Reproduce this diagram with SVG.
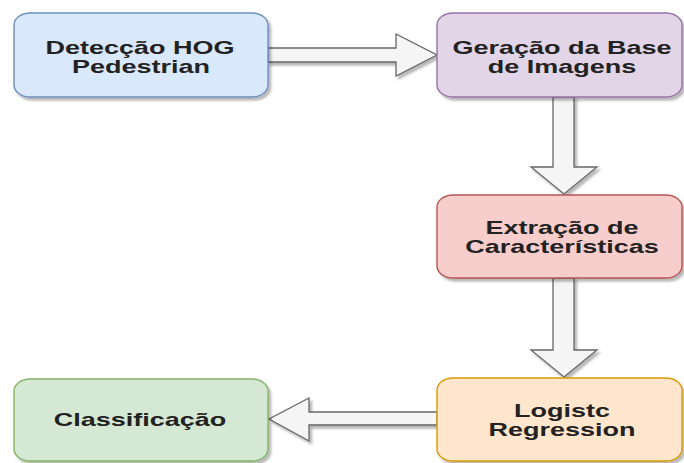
<svg xmlns="http://www.w3.org/2000/svg" width="684" height="463" viewBox="0 0 684 463">
<style>
.box{stroke-width:1.4}
.lbl{font-family:"Liberation Sans",Arial,sans-serif;font-size:18px;font-weight:bold;fill:#222;text-anchor:middle}
.arr{fill:#f5f5f5;stroke:#666;stroke-width:1.3;stroke-linejoin:miter}
</style>
<defs>
<filter id="sh" x="-10%" y="-10%" width="125%" height="130%">
<feDropShadow dx="2.5" dy="3" stdDeviation="1.2" flood-color="#000" flood-opacity="0.28"/>
</filter>
</defs>
<rect width="684" height="463" fill="#fff"/>
<g id="connectors" filter="url(#sh)">
<polygon class="arr" points="268,48 396,48 396,34 437,55 396,76 396,62 268,62"/>
<polygon class="arr" points="553,97 574,97 574,167 597,167 564,194 531,167 553,167"/>
<polygon class="arr" points="553,278 574,278 574,350 597,350 564,377 531,350 553,350"/>
<polygon class="arr" points="437,412 309,412 309,398 269,419 309,441 309,425 437,425"/>
</g>
<g id="n1">
<rect class="box" x="14" y="13" width="254" height="84" rx="16" ry="12" fill="#dae8fc" stroke="#6c8ebf" filter="url(#sh)"/>
<text class="lbl" transform="translate(140,54) scale(1.5,1)">Detecção HOG</text>
<text class="lbl" transform="translate(141,73) scale(1.5,1)">Pedestrian</text>
</g>
<g id="n2">
<rect class="box" x="437" y="13" width="245" height="84" rx="16" ry="12" fill="#e1d5e7" stroke="#9673a6" filter="url(#sh)"/>
<text class="lbl" transform="translate(562,54) scale(1.5,1)">Geração da Base</text>
<text class="lbl" transform="translate(562,73) scale(1.5,1)">de Imagens</text>
</g>
<g id="n3">
<rect class="box" x="437" y="195" width="245" height="83" rx="16" ry="12" fill="#f8cecc" stroke="#b85450" filter="url(#sh)"/>
<text class="lbl" transform="translate(562,234) scale(1.5,1)">Extração de</text>
<text class="lbl" transform="translate(562,253) scale(1.5,1)">Características</text>
</g>
<g id="n4">
<rect class="box" x="437" y="378" width="245" height="83" rx="16" ry="12" fill="#ffe6cc" stroke="#d79b00" filter="url(#sh)"/>
<text class="lbl" transform="translate(562,417) scale(1.5,1)">Logistc</text>
<text class="lbl" transform="translate(562,436) scale(1.5,1)">Regression</text>
</g>
<g id="n5">
<rect class="box" x="14" y="379" width="254" height="82" rx="16" ry="12" fill="#d5e8d4" stroke="#82b366" filter="url(#sh)"/>
<text class="lbl" transform="translate(140,426) scale(1.5,1)">Classificação</text>
</g>
</svg>
